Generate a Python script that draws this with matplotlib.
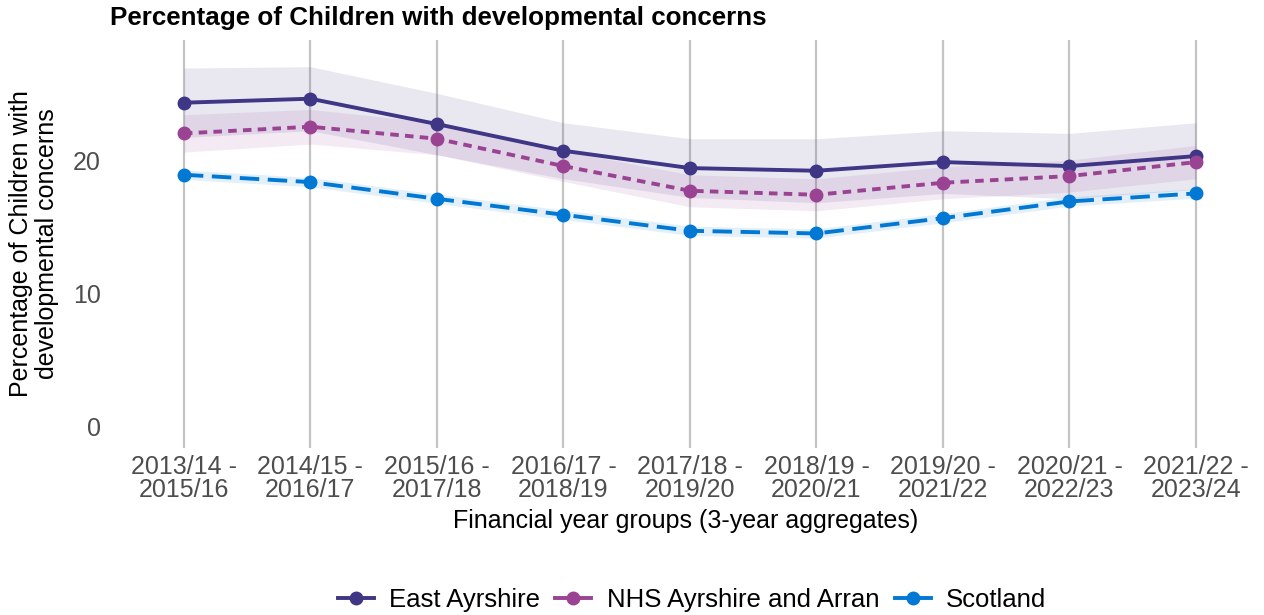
import matplotlib
matplotlib.use('Agg')
import matplotlib.pyplot as plt

plt.rcParams['font.family'] = ['Liberation Sans', 'DejaVu Sans']

# data
periods = ['2013/14 -\n2015/16', '2014/15 -\n2016/17', '2015/16 -\n2017/18',
           '2016/17 -\n2018/19', '2017/18 -\n2019/20', '2018/19 -\n2020/21',
           '2019/20 -\n2021/22', '2020/21 -\n2022/23', '2021/22 -\n2023/24']

east_ayrshire = [24.3, 24.6, 22.7, 20.7, 19.4, 19.2, 19.85, 19.55, 20.3]
east_upper = [26.9, 27.0, 25.0, 22.8, 21.6, 21.6, 22.2, 22.0, 22.8]
east_lower = [21.7, 22.2, 20.4, 18.6, 17.2, 16.8, 17.5, 17.1, 17.8]

nhs_aa = [22.0, 22.5, 21.6, 19.55, 17.7, 17.4, 18.3, 18.8, 19.85]
nhs_upper = [23.4, 23.8, 22.8, 20.7, 18.9, 18.6, 19.5, 20.0, 21.1]
nhs_lower = [20.6, 21.2, 20.4, 18.4, 16.5, 16.2, 17.1, 17.6, 18.6]

scotland = [18.9, 18.35, 17.1, 15.9, 14.7, 14.5, 15.65, 16.9, 17.5]
scot_upper = [19.25, 18.7, 17.45, 16.25, 15.05, 14.85, 16.0, 17.25, 17.85]
scot_lower = [18.55, 18.0, 16.75, 15.55, 14.35, 14.15, 15.3, 16.55, 17.15]

x = list(range(len(periods)))

fig = plt.figure(figsize=(12.64, 6.15), dpi=100)
ax = fig.add_axes([108 / 1264, 1 - 448 / 615, 1 - 108 / 1264, 408 / 615])

series = [
    ('East Ayrshire', east_ayrshire, east_lower, east_upper, '#3F3685', '-'),
    ('NHS Ayrshire and Arran', nhs_aa, nhs_lower, nhs_upper, '#9B4393', (0, (2.2, 1.6))),
    ('Scotland', scotland, scot_lower, scot_upper, '#0078D4', (0, (5, 2.2))),
]

for name, vals, lo, hi, col, ls in series:
    ax.fill_between(x, lo, hi, color=col, alpha=0.11, linewidth=0, zorder=2)
for name, vals, lo, hi, col, ls in series:
    ax.plot(x, vals, color=col, linestyle=ls, linewidth=2.8, marker='o',
            markersize=9, label=name, zorder=3)

ax.set_xlim(-0.6, 8 + 68 / 126.5)
ax.set_ylim(-1.58, 29.0)
ax.set_xticks(x)
ax.set_xticklabels(periods, fontsize=18, color='#4D4D4D', linespacing=0.95)
ax.set_yticks([0, 10, 20])
ax.set_yticklabels(['0', '10', '20'], fontsize=18, color='#4D4D4D')
ax.tick_params(axis='x', length=0, pad=5)
ax.tick_params(axis='y', length=0, pad=5)
ax.grid(axis='x', color='#C4C4C4', linewidth=1.6, zorder=1)
ax.grid(axis='y', visible=False)
for s in ax.spines.values():
    s.set_visible(False)

ax.set_xlabel('Financial year groups (3-year aggregates)', fontsize=18, labelpad=5)
ax.set_ylabel('Percentage of Children with\ndevelopmental concerns', fontsize=18,
              linespacing=1.1, labelpad=10)

fig.text(110 / 1264, 1 - 18 / 615, 'Percentage of Children with developmental concerns',
         fontsize=18.7, fontweight='bold', ha='left', va='center')

leg = fig.legend(loc='center', bbox_to_anchor=(692 / 1264, 1 - 600 / 615), ncol=3,
                 frameon=False, fontsize=18.5, handlelength=1.4, columnspacing=0.6,
                 handletextpad=0.6)
for h in leg.get_lines():
    h.set_linestyle('-')

fig.savefig('out.png', dpi=100)
